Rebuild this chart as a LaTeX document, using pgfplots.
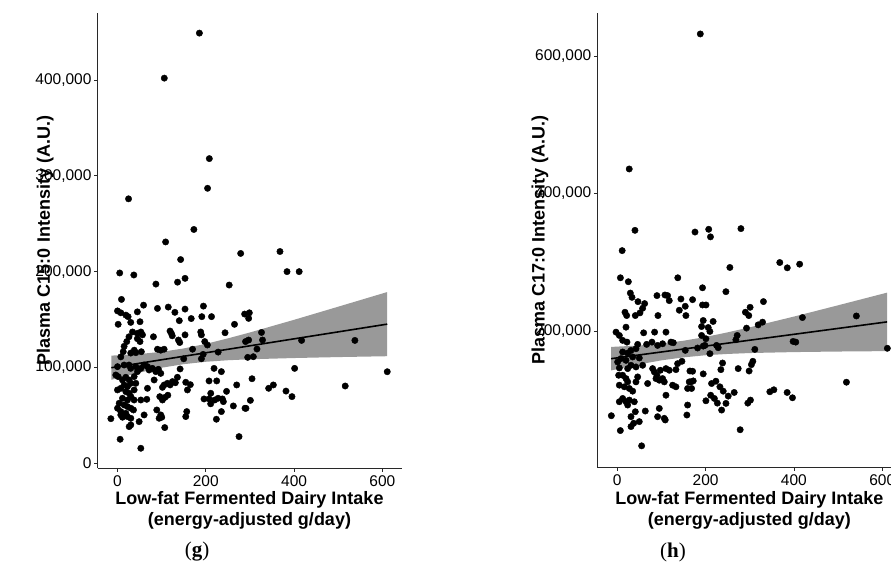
\documentclass[border=0pt]{standalone}
\usepackage{pgfplots}
\pgfplotsset{compat=1.18}
\usepackage{fontspec}
\setmainfont{Liberation Sans}
\newfontfamily\capfont{Liberation Serif}
\definecolor{ribbon}{RGB}{153,153,153}
\definecolor{axcol}{RGB}{40,40,40}

\pgfplotsset{
  panel/.style={
    scale only axis, anchor=south west,
    width=304pt,
    xmin=-45.3, xmax=643.3,
    axis x line*=bottom, axis y line*=left,
    axis line style={-, axcol, line width=0.7pt},
    tick align=outside, major tick length=3.5pt,
    tick style={axcol, line width=0.7pt},
    xtick={0,200,400,600},
    ticklabel style={font=\fontsize{15.5}{17}\selectfont, text=black},
    /pgf/number format/assume math mode=true,
    yticklabel style={/pgf/number format/fixed, /pgf/number format/1000 sep={,}, xshift=1pt},
    scaled y ticks=false,
    xticklabel style={yshift=-0.5pt},
    label style={font=\fontsize{18}{21}\selectfont\bfseries},
    xlabel={Low-fat Fermented Dairy Intake\\(energy-adjusted g/day)},
    xlabel style={align=center, at={(axis description cs:0.5,-0.094)}, anchor=center},
    clip=false,
  },
  pts/.style={only marks, mark=*, mark size=3.2pt, black, mark options={draw=black, fill=black}},
}

\begin{document}
\begin{tikzpicture}
\useasboundingbox (0,0) rectangle (891pt,579pt);
\clip (0,0) rectangle (891pt,579pt);

% ---------------- panel (g) ----------------
\begin{axis}[panel,
  at={(97.5pt,111pt)}, height=455pt,
  ymin=-5000, ymax=470000,
  ytick={0,100000,200000,300000,400000},
  ylabel={Plasma C15:0 Intensity (A.U.)},
  ylabel style={at={(axis description cs:-0.172,0.5)}, anchor=center},
]
\addplot[fill=ribbon, draw=none] coordinates {
(-14,87100) (50,94600) (100,99700) (150,103400) (200,105900) (250,107500) (300,108500) (400,109800) (500,110800) (611,111700)
(611,178700) (500,163400) (400,149700) (300,136500) (250,130300) (200,124600) (150,119800) (100,116300) (50,114000) (-14,112300)} -- cycle;
\addplot[pts] table {
x y
185.5 449000
106 402000
208 318000
204 287000
25 276000
173 244000
109 231000
279 219000
368 221000
143 212600
5 198600
37 196500
384 200000
411.5 200000
153 193000
136 189000
87 187000
253 186000
9 171000
59 165000
90.5 161600
115 163000
130 157500
153 160900
194.6 164000
0 159000
7.5 157000
19 154600
24 153000
45 158000
30 147000
51 147700
1.5 145000
140 148800
167 151000
191 153000
213 153000
265 145000
288 155700
243.6 136200
290 127000
34 137000
45 135600
53 137000
56.6 134000
26 132000
21 127000
15 122000
45 130000
51 127000
81.4 132000
119 138000
122 135600
124 133000
138 128600
141 126000
153 134000
188.5 137000
190 134000
197.6 127000
203.6 123400
170 119000
90.5 119000
98 118000
105.6 119000
54 116400
41.5 115400
13 116400
7.5 111000
30 115000
38 118000
0 100800
15 102500
26 102500
30 99000
41.5 100800
53 99000
60 102500
68 100800
71.6 97300
79 99000
90.5 97300
98 93800
-3.8 92100
1.5 90400
11.3 86900
18.9 89700
26.4 86900
30.2 83400
15.1 81700
22.6 80000
7.5 78200
0 76500
18.9 74700
26.4 73000
30.2 69500
11.3 67800
22.6 66000
3.8 62600
15.1 60800
22.6 59100
30.2 57400
0 57400
7.5 53900
18.9 52100
7.5 50400
22.6 48700
11.3 48000
30.2 46900
30.2 40000
26.4 38200
49 43400
60.3 50400
52.8 66000
36.2 55600
37.7 66000
37.7 76500
41.5 83400
37.7 90400
45.2 95600
67.9 78200
66.4 66700
83 86900
86.7 95600
92.8 98000
101.8 79200
105.6 81700
113 83400
119.2 81700
124.4 85200
135.7 89700
141.8 98400
154.6 84500
158.4 76500
95.8 69500
101.8 66000
107.8 68800
98 50400
100.3 48000
107 37200
89 55600
94.3 46900
156.9 53900
154.6 48700
196 67100
207.4 67100
211.2 73000
220.2 66000
227.8 67800
237.6 67100
239.8 64300
218.7 99000
235.3 95600
207.4 85900
224.7 85900
270 81700
235.3 53900
224 45900
262.4 59800
288.8 57400
275.3 27800
6 25000
52.8 15600
-15 46500
150 109000
190 109000
194 113600
228 116000
247 75000
211 62000
165 82000
131 84000
114 71000
298.6 157000
297 151200
297 128600
326.2 136500
328.5 128600
315.9 119200
294.9 110500
307.7 111200
417 128200
537.7 128200
401.2 99000
611 95500
304.7 88200
342.4 78200
353 81700
381.6 75300
395.2 69500
515.8 80600
301 65600
291 57300
};
\addplot[black, line width=1.6pt] coordinates {(-14,99700) (611,145200)};
\end{axis}

% ---------------- panel (h) ----------------
\begin{axis}[panel,
  at={(597.3pt,111.7pt)}, height=454pt,
  ymin=2000, ymax=662000,
  ytick={200000,400000,600000},
  ylabel={Plasma C17:0 Intensity (A.U.)},
  ylabel style={at={(axis description cs:-0.189,0.5)}, anchor=center},
]
\addplot[fill=ribbon, draw=none] coordinates {
(-14,142800) (50,151700) (100,157500) (150,161800) (200,164900) (250,166800) (300,168100) (400,169500) (500,170300) (611,170900)
(611,255900) (500,237500) (400,221100) (300,205500) (250,198200) (200,191500) (150,186000) (100,181900) (50,179100) (-14,177000)} -- cycle;
\addplot[pts] table {
x y
188 632000
27 435700
40 346500
176 344000
207 348000
211 337000
280 349000
11 317000
7 277500
25 271800
137 277500
255 292500
368 299700
385 292000
413 297300
193 263000
246 257300
29.5 255300
33.3 249100
46.8 242800
61.9 240000
57.4 233200
51.3 226500
40.8 222600
17.4 227400
21.2 222600
89.8 251600
107.9 252500
113.9 251600
117.7 244300
92.1 222600
144.1 246700
153.9 236100
140.4 230300
155.4 222600
170.5 245700
-2.9 198500
4.6 193700
12.1 186500
19.7 205700
21.9 184000
59.7 197500
84.5 198500
110.2 198500
121.5 184000
126.8 183100
102.6 181600
91.3 179200
78.5 184000
66.4 180700
46.1 180700
42.3 174400
31 172000
23.5 168100
12.1 169600
8.4 160000
0.8 155100
19.7 157500
34.8 162400
49.8 160900
31 150300
42.3 147900
23.5 145500
4.6 146400
57.4 150300
80 145500
83.8 140700
97.4 143100
110.2 145500
117.7 143100
132.8 144000
136.6 152700
146.4 156100
170.5 141600
162.9 126200
3.1 135800
12.1 135800
19.7 131000
23.5 126200
4.6 121400
15.9 119000
27.2 116600
34.8 112700
42.3 126200
46.1 133400
68.7 123800
87.6 131000
95.1 128600
102.6 131000
106.4 126200
89.8 135800
125.3 121400
132.8 119000
110.2 106800
159.2 116600
166.7 126200
4.6 97300
12.1 102100
19.7 97300
23.5 92500
27.2 99700
38.5 97300
40.8 82800
31 75600
37 66000
31 61200
49.8 68400
63.4 83800
95.1 87600
91.3 75600
106.4 73200
108.6 70800
159.2 92500
157.6 78000
-13.5 77000
6.9 55400
55.1 33200
181.8 175400
154 172000
193 238000
200.9 238000
331 242900
290.2 227400
300.8 234600
297.8 222600
194.6 215400
217 214000
190.9 206600
205.9 205200
209.7 199500
190.9 193700
200.7 188900
198.5 179200
329 213000
319.1 209100
292.7 204300
271.5 193700
268.6 187400
224.8 179200
228.5 175900
194.6 178200
209.7 167200
311.5 173400
398.2 185000
164.5 142000
172 127600
168.2 116600
194.6 137800
238.4 153600
234.6 144000
273.8 145500
307 156100
303.8 151300
298.6 142000
213.5 123800
223.3 127200
232.4 119000
239.9 112700
251.2 105500
264.8 110800
211.5 106800
219.8 102100
226.6 95300
246.1 94900
236.3 85200
200.7 98700
301.6 99700
295.6 95300
345.5 111800
354.6 114700
384.7 110800
396.8 103100
278.3 56600
419.3 219700
541.5 222000
404.3 184000
611.7 175000
519 125700
};
\addplot[black, line width=1.6pt] coordinates {(-14,159900) (611,213400)};
\end{axis}

\node[font=\capfont\fontsize{21}{24}\selectfont] at (197pt,27pt) {(\textbf{g})};
\node[font=\capfont\fontsize{21}{24}\selectfont] at (673pt,27pt) {(\textbf{h})};
\end{tikzpicture}
\end{document}
